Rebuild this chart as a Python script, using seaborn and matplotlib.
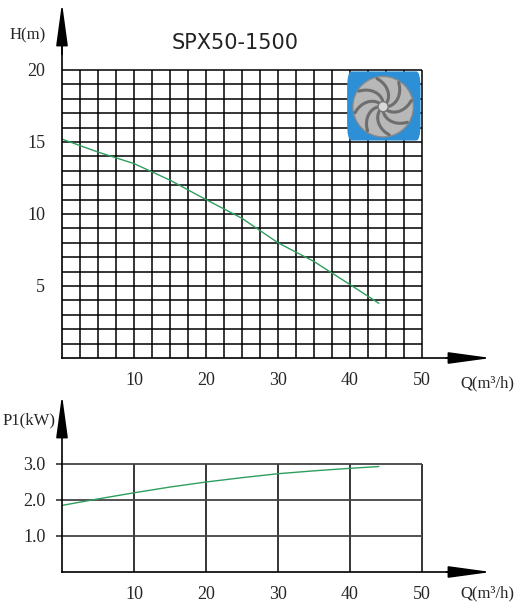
import numpy as np
import pandas as pd
import matplotlib
matplotlib.use("Agg")
import matplotlib.pyplot as plt
import seaborn as sns
from matplotlib.patches import FancyBboxPatch, Ellipse

TITLE = "SPX50-1500"
Q_H = [0, 5, 10, 15, 20, 25, 30, 35, 40, 44]
H = [15.2, 14.3, 13.5, 12.35, 11.0, 9.7, 8.0, 6.7, 5.1, 3.8]
Q_P = [0, 5, 10, 15, 20, 25, 30, 35, 40, 44]
P1 = [1.85, 2.03, 2.2, 2.36, 2.5, 2.62, 2.73, 2.81, 2.88, 2.93]
X_TICKS = [10, 20, 30, 40, 50]
H_TICKS = [5, 10, 15, 20]
P_TICKS = [1.0, 2.0, 3.0]

sns.set_theme(style="white")
plt.rcParams["font.family"] = ["Liberation Serif", "DejaVu Serif"]

W, HT = 514, 611
fig = plt.figure(figsize=(W / 100, HT / 100), dpi=100)
GREEN = "#2e9e5e"


def setup(ax, ymax, yticks, ylabels, yminor):
    ax.set_xlim(0, 60)
    ax.set_ylim(0, ymax)
    for s in ["top", "right"]:
        ax.spines[s].set_visible(False)
    for s in ["left", "bottom"]:
        ax.spines[s].set_color("black")
        ax.spines[s].set_linewidth(1.2)
    ax.spines["bottom"].set_bounds(0, 57)
    ax.spines["left"].set_bounds(0, ymax * 0.9)
    ax.set_xticks(X_TICKS)
    ax.set_xticklabels([str(t) for t in X_TICKS], fontsize=13)
    ax.set_xticks(np.arange(2.5, 58, 2.5), minor=True)
    ax.set_yticks(yticks)
    ax.set_yticklabels(ylabels, fontsize=13)
    ax.set_yticks(yminor, minor=True)
    ax.tick_params(axis="x", which="major", direction="inout", length=12, width=1, pad=4)
    ax.tick_params(axis="x", which="minor", direction="out", length=4, width=1)
    ax.tick_params(axis="y", which="both", direction="out", length=4, width=1, pad=8)
    ax.patch.set_alpha(0)
    ax.annotate("", xy=(60, 0), xytext=(53, 0),
                arrowprops=dict(arrowstyle="-|>,head_length=2.2,head_width=0.3",
                                color="black", lw=1.2), annotation_clip=False)
    ax.annotate("", xy=(0, ymax), xytext=(0, ymax * 0.84),
                arrowprops=dict(arrowstyle="-|>,head_length=2.2,head_width=0.3",
                                color="black", lw=1.2), annotation_clip=False)


# top chart: head
ax1 = fig.add_axes([62 / W, (HT - 358) / HT, 432 / W, 358 / HT])
ymax1 = 24.86
setup(ax1, ymax1, H_TICKS, [str(t) for t in H_TICKS], np.arange(1, 24, 1))
ax1.vlines(np.arange(2.5, 50.1, 2.5), 0, 20, color="black", lw=1.1)
ax1.hlines(np.arange(1, 20.1, 1), 0, 50, color="black", lw=1.1)
ax1.text(-7.3, 22.4, "H(m)", fontsize=12, ha="left", va="center")
ax1.text(55.3, -1.75, "Q(m³/h)", fontsize=12, ha="left", va="center")
ax1.text(24, 21.9, TITLE, fontsize=15, ha="center", va="center",
         family=["DejaVu Sans"], color="#222222")
df_h = pd.DataFrame({"Q": Q_H, "H": H})
sns.lineplot(data=df_h, x="Q", y="H", ax=ax1, color=GREEN, lw=1.0)
ax1.set_xlabel("")
ax1.set_ylabel("")
# impeller picture placeholder
ax1.add_patch(FancyBboxPatch((39.6, 15.1), 10.2, 4.8, boxstyle="round,pad=0,rounding_size=0.6",
                             facecolor="#2d8fd5", edgecolor="none", zorder=3,
                             mutation_aspect=2.0))
ax1.add_patch(Ellipse((44.6, 17.45), 8.4, 4.2, facecolor="#b8b8b8",
                      edgecolor="#8a8a8a", zorder=4))
for a in np.linspace(0, 2 * np.pi, 8, endpoint=False):
    t = np.linspace(0, 1, 10)
    r = 0.6 + 3.4 * t
    ang = a + 1.0 * t
    ax1.plot(44.6 + r * np.cos(ang), 17.45 + r * 0.5 * np.sin(ang),
             color="#6e6e6e", lw=2.2, zorder=5)
ax1.add_patch(Ellipse((44.6, 17.45), 1.4, 0.7, facecolor="#d8d8d8",
                      edgecolor="#777777", zorder=6))

# bottom chart: power
ax2 = fig.add_axes([62 / W, (HT - 572) / HT, 432 / W, 180 / HT])
ymax2 = 5.0
setup(ax2, ymax2, P_TICKS, ["%.1f" % t for t in P_TICKS], np.arange(0.5, 4.1, 0.5))
ax2.vlines(X_TICKS, 0, 3, color="black", lw=1.1)
ax2.hlines(P_TICKS, -0.9, 50, color="#444444", lw=1.3, clip_on=False)
ax2.text(-8.3, 4.2, "P1(kW)", fontsize=12, ha="left", va="center")
ax2.text(55.3, -0.6, "Q(m³/h)", fontsize=12, ha="left", va="center")
df_p = pd.DataFrame({"Q": Q_P, "P1": P1})
sns.lineplot(data=df_p, x="Q", y="P1", ax=ax2, color=GREEN, lw=1.0)
ax2.set_xlabel("")
ax2.set_ylabel("")

fig.savefig("out.png", dpi=100)
